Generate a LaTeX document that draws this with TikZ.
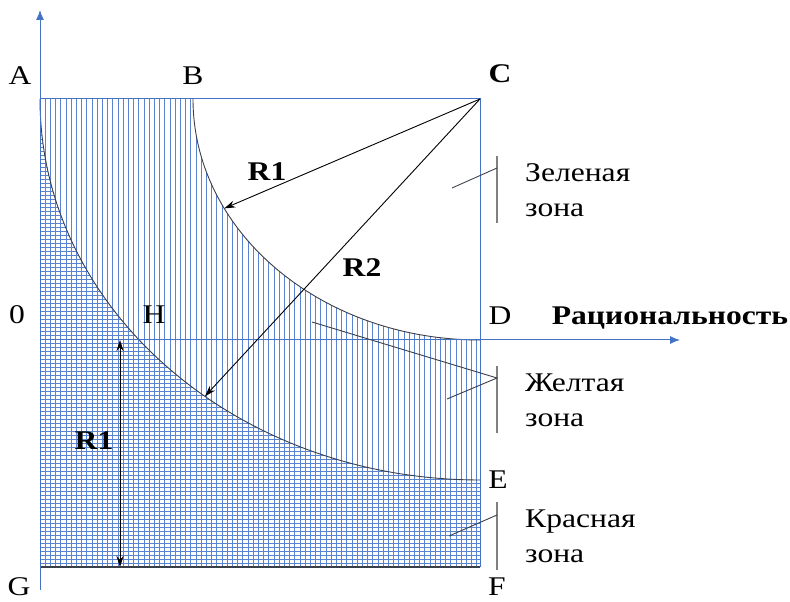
\documentclass[tikz,border=0pt]{standalone}
\usepackage{fontspec}
\setmainfont{Liberation Serif}[FakeStretch=1.17]
\usetikzlibrary{arrows.meta,calc}
\definecolor{hb}{HTML}{4472C4}
\definecolor{hl}{HTML}{5A84D2}
\definecolor{cv}{HTML}{3A3F4A}
\definecolor{bar}{HTML}{808080}
\begin{document}
\begin{tikzpicture}[x=1pt,y=1pt,
  hatch/.style={hl,line width=0.7pt},
  frame/.style={hb,line width=1pt},
  curve/.style={cv,line width=0.9pt},
  radarrow/.style={black,line width=0.9pt,-{Stealth[length=11pt,width=7pt]}},
  leader/.style={cv,line width=0.9pt},
  zonebar/.style={bar,line width=2pt},
  lbl/.style={font=\fontsize{27}{30}\selectfont,inner sep=0pt,anchor=base},
  blbl/.style={font=\fontsize{27}{30}\selectfont\bfseries,inner sep=0pt,anchor=base},
  zone/.style={font=\fontsize{27}{34}\selectfont,inner sep=0pt,anchor=base west}]
\useasboundingbox (0,0) rectangle (790,602);
% key points
\coordinate (A) at (40,503);
\coordinate (B) at (193,503);
\coordinate (C) at (480,503);
\coordinate (D) at (480,262);
\coordinate (E) at (480,122);
\coordinate (F) at (480,35);
\coordinate (G) at (40,35);
\coordinate (O) at (40,262);
% vertical hatching (yellow + red)
\begin{scope}
  \clip (A) -- (B) arc[start angle=180,end angle=270,x radius=287pt,y radius=241pt] -- (F) -- (G) -- cycle;
  \foreach \x in {40,45.2,...,482} \draw[hatch] (\x,30) -- (\x,510);
\end{scope}
% horizontal hatching (red)
\begin{scope}
  \clip (A) arc[start angle=180,end angle=270,x radius=440pt,y radius=381pt] -- (F) -- (G) -- cycle;
  \foreach \y in {35,39,...,505} \draw[hatch] (35,\y) -- (485,\y);
\end{scope}
% frame
\draw[frame] (A) -- (C) -- (F);
\draw[cv,line width=1.2pt] (G) -- (F);
% curves
\draw[curve] (B) arc[start angle=180,end angle=270,x radius=287pt,y radius=241pt];
\draw[curve] (A) arc[start angle=180,end angle=270,x radius=440pt,y radius=381pt];
% axes
\coordinate (ytop) at (40,592);
\coordinate (ybot) at (40,12);
\coordinate (xend) at (680,262);
\draw[frame,-{Latex[length=10pt,width=8pt]}] (ybot) -- (ytop);
\draw[frame,-{Latex[length=10pt,width=8pt]}] (O) -- (xend);
% radius arrows
\coordinate (P1) at ($(C)+(207:287pt and 241pt)$);
\coordinate (P2) at ($(C)+(231.3:440pt and 381pt)$);
\draw[radarrow] (C) -- (P1);
\draw[radarrow] (C) -- (P2);
\coordinate (Rt) at (120,262);
\coordinate (Rb) at (120,35);
\draw[black,line width=0.9pt,{Stealth[length=11pt,width=7pt]}-{Stealth[length=11pt,width=7pt]}] (Rt) -- (Rb);
% point labels
\node[lbl] (lA) at (20,517) {A};
\node[lbl] (lB) at (193,517) {B};
\node[blbl] (lC) at (500,519) {C};
\node[lbl] (l0) at (17,278) {0};
\node[lbl] (lH) at (154,278) {H};
\node[lbl] (lD) at (500,277) {D};
\node[blbl] (lX) at (670,277) {Рациональность};
\node[lbl] (lE) at (498,113) {E};
\node[lbl] (lF) at (497,6) {F};
\node[lbl] (lG) at (19,6) {G};
\node[blbl] (r1a) at (267,421) {R1};
\node[blbl] (r2) at (362,325) {R2};
\node[blbl] (r1b) at (94,152) {R1};
% zone labels
\node[zone] (zg1) at (525,420) {Зеленая};
\node[zone] (zg2) at (525,385) {зона};
\node[zone] (zy1) at (525,210) {Желтая};
\node[zone] (zy2) at (525,175) {зона};
\node[zone] (zr1) at (525,74) {Красная};
\node[zone] (zr2) at (525,39) {зона};
% zone bars and leaders
\coordinate (gb1) at (497,446); \coordinate (gb2) at (497,379);
\coordinate (yb1) at (497,236); \coordinate (yb2) at (497,169);
\coordinate (rb1) at (497,100); \coordinate (rb2) at (497,32);
\draw[zonebar] (gb1) -- (gb2);
\draw[zonebar] (yb1) -- (yb2);
\draw[zonebar] (rb1) -- (rb2);
\coordinate (gl) at (452,414); \coordinate (gj) at (497,434);
\coordinate (yl1) at (312,280); \coordinate (yl2) at (447,203); \coordinate (yj) at (497,224);
\coordinate (rl) at (449,66); \coordinate (rj) at (497,87);
\draw[leader] (gl) -- (gj);
\draw[leader] (yl1) -- (yj) -- (yl2);
\draw[leader] (rl) -- (rj);
\end{tikzpicture}
\end{document}
